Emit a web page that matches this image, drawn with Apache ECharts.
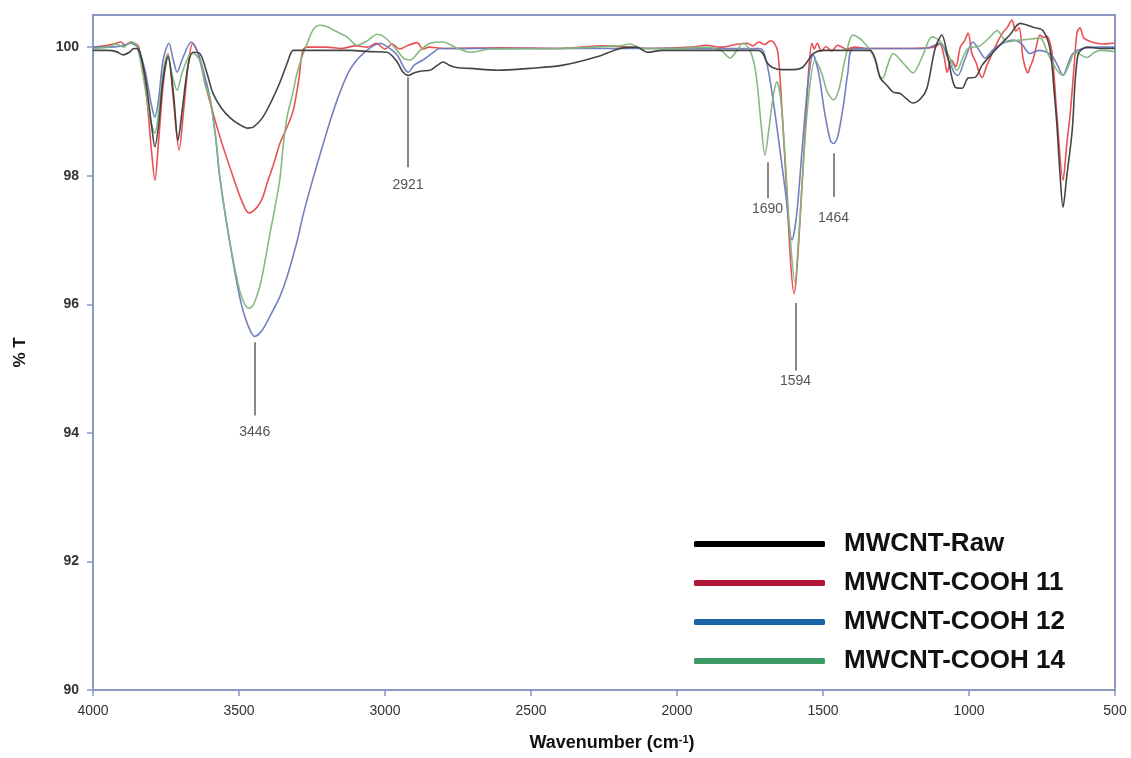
<!DOCTYPE html>
<html>
<head>
<meta charset="utf-8">
<title>FTIR spectra of MWCNT samples</title>
<script src="https://cdn.jsdelivr.net/npm/echarts@6/dist/echarts.min.js"></script>
<style>
  html, body { margin: 0; padding: 0; background: #ffffff; }
  #chart { width: 1131px; height: 758px; }
</style>
</head>
<body>
<div id="chart"></div>
<script>
// FTIR transmittance spectra, [wavenumber (cm-1), %T]
const seriesNames = ['MWCNT-Raw', 'MWCNT-COOH 11', 'MWCNT-COOH 12', 'MWCNT-COOH 14'];

const rawSpectrum = [
  [4000, 99.95], [3950, 99.95], [3920, 99.93], [3897, 99.88], [3875, 99.92], [3860, 99.98], [3845, 99.97],
  [3820, 99.5], [3800, 98.8], [3788, 98.45], [3775, 98.8], [3760, 99.5], [3743, 99.85], [3725, 99.3],
  [3709, 98.55], [3695, 99.0], [3675, 99.7], [3658, 99.92], [3634, 99.9], [3610, 99.6], [3589, 99.28],
  [3560, 99.05], [3530, 98.9], [3500, 98.8], [3470, 98.74], [3450, 98.76], [3420, 98.9], [3390, 99.15],
  [3360, 99.45], [3335, 99.75], [3315, 99.95], [3300, 99.95], [3200, 99.95], [3120, 99.95], [3050, 99.93],
  [2993, 99.92], [2960, 99.78], [2940, 99.62], [2921, 99.56], [2900, 99.6], [2875, 99.63], [2846, 99.64],
  [2820, 99.72], [2801, 99.77], [2780, 99.72], [2750, 99.68], [2709, 99.67], [2616, 99.64], [2503, 99.67],
  [2390, 99.72], [2274, 99.85], [2195, 99.98], [2137, 100.0], [2103, 99.92], [2050, 99.95], [1900, 99.95],
  [1800, 99.95], [1720, 99.95], [1706, 99.9], [1690, 99.75], [1671, 99.68], [1640, 99.65], [1600, 99.65],
  [1572, 99.68], [1550, 99.8], [1534, 99.9], [1500, 99.95], [1400, 99.95], [1339, 99.95], [1320, 99.8],
  [1305, 99.53], [1280, 99.4], [1260, 99.3], [1236, 99.28], [1215, 99.2], [1192, 99.13], [1165, 99.2],
  [1144, 99.36], [1116, 99.98], [1093, 100.19], [1072, 99.83], [1048, 99.38], [1024, 99.36], [1003, 99.52],
  [979, 99.53], [955, 99.72], [917, 99.92], [880, 100.1], [860, 100.19], [825, 100.37], [781, 100.31],
  [747, 100.26], [723, 99.98], [710, 99.4], [699, 98.79], [688, 98.0], [678, 97.51], [665, 98.0],
  [647, 98.68], [627, 99.88], [596, 100.0], [550, 99.98], [500, 99.98]
];

const cooh11Spectrum = [
  [4000, 100.0], [3960, 100.02], [3930, 100.05], [3904, 100.08], [3890, 100.03], [3870, 100.08], [3853, 100.05],
  [3843, 100.0], [3820, 99.4], [3800, 98.4], [3788, 97.93], [3776, 98.5], [3760, 99.4], [3743, 99.9],
  [3725, 99.2], [3705, 98.4], [3690, 99.0], [3672, 99.8], [3658, 100.06], [3640, 99.9], [3610, 99.33],
  [3565, 98.6], [3520, 97.98], [3490, 97.6], [3466, 97.42], [3440, 97.5], [3420, 97.65], [3404, 97.88],
  [3380, 98.2], [3360, 98.5], [3336, 98.75], [3315, 99.0], [3295, 99.5], [3284, 99.9], [3270, 100.0],
  [3200, 100.0], [3150, 99.98], [3100, 100.02], [3060, 100.0], [3030, 100.06], [3000, 99.97], [2975, 100.05],
  [2950, 99.97], [2920, 100.03], [2890, 100.07], [2870, 99.97], [2850, 100.0], [2800, 99.98], [2600, 99.99],
  [2400, 99.98], [2250, 100.02], [2100, 99.98], [1950, 100.0], [1900, 100.03], [1850, 100.0], [1800, 100.04],
  [1760, 100.06], [1740, 100.02], [1720, 100.08], [1700, 100.04], [1680, 100.1], [1665, 100.05], [1654, 99.9],
  [1640, 99.0], [1625, 97.8], [1610, 96.6], [1599, 96.17], [1590, 96.5], [1575, 97.6], [1560, 98.8],
  [1548, 99.7], [1538, 100.06], [1530, 99.97], [1520, 100.06], [1505, 99.94], [1490, 100.01], [1470, 99.94],
  [1450, 100.03], [1420, 99.97], [1390, 100.0], [1350, 99.98], [1300, 99.98], [1200, 99.98], [1120, 100.0],
  [1100, 100.05], [1085, 99.85], [1075, 99.61], [1060, 99.8], [1045, 99.7], [1030, 100.0], [1015, 100.1],
  [1003, 100.22], [990, 99.9], [975, 99.75], [965, 99.6], [955, 99.53], [940, 99.7], [921, 99.9],
  [900, 100.1], [884, 100.23], [870, 100.3], [853, 100.42], [840, 100.25], [828, 100.3], [815, 99.83],
  [798, 99.6], [790, 99.7], [781, 99.8], [770, 100.0], [757, 100.19], [745, 100.15], [733, 100.17],
  [716, 99.92], [699, 98.94], [678, 97.93], [665, 98.5], [654, 98.94], [640, 99.7], [630, 100.23],
  [620, 100.3], [608, 100.15], [596, 100.11], [580, 100.08], [562, 100.06], [540, 100.05], [507, 100.06],
  [500, 100.06]
];

const cooh12Spectrum = [
  [4000, 100.0], [3950, 100.0], [3900, 100.02], [3870, 100.06], [3845, 99.98], [3820, 99.6], [3800, 99.1],
  [3788, 98.91], [3775, 99.2], [3760, 99.8], [3740, 100.06], [3725, 99.8], [3712, 99.61], [3695, 99.8],
  [3664, 100.08], [3640, 99.9], [3620, 99.6], [3599, 99.2], [3580, 98.6], [3565, 97.95], [3531, 96.95],
  [3497, 96.1], [3470, 95.68], [3446, 95.5], [3420, 95.6], [3390, 95.85], [3360, 96.12], [3336, 96.42],
  [3300, 97.0], [3281, 97.38], [3250, 97.9], [3223, 98.32], [3188, 98.85], [3154, 99.3], [3120, 99.65],
  [3075, 99.9], [3017, 100.06], [2990, 100.0], [2959, 99.88], [2935, 99.68], [2921, 99.61], [2900, 99.72],
  [2870, 99.8], [2840, 99.9], [2812, 99.98], [2000, 99.98], [1720, 99.98], [1706, 99.95], [1690, 99.7],
  [1675, 99.3], [1658, 98.76], [1630, 97.8], [1606, 97.0], [1590, 97.4], [1570, 98.5], [1550, 99.5],
  [1534, 99.88], [1515, 99.6], [1495, 99.0], [1475, 98.55], [1464, 98.5], [1450, 98.6], [1430, 99.1],
  [1415, 99.6], [1397, 99.98], [1300, 99.98], [1150, 99.98], [1099, 100.06], [1070, 99.8], [1050, 99.6],
  [1038, 99.56], [1015, 99.8], [986, 100.08], [965, 99.95], [945, 99.83], [920, 99.95], [884, 100.06],
  [849, 100.11], [820, 100.05], [791, 99.9], [760, 99.95], [733, 99.92], [713, 99.85], [695, 99.7],
  [678, 99.56], [660, 99.75], [644, 99.9], [610, 99.98], [550, 100.0], [500, 100.0]
];

const cooh14Spectrum = [
  [4000, 99.98], [3950, 100.0], [3920, 100.05], [3895, 100.0], [3870, 100.08], [3850, 100.02], [3830, 99.6],
  [3805, 98.9], [3788, 98.66], [3775, 99.0], [3760, 99.6], [3745, 99.88], [3728, 99.55], [3712, 99.33],
  [3695, 99.6], [3670, 99.88], [3657, 99.9], [3635, 99.8], [3615, 99.4], [3599, 99.2], [3580, 98.6],
  [3565, 97.95], [3531, 96.95], [3497, 96.2], [3480, 96.0], [3466, 95.94], [3450, 96.0], [3425, 96.35],
  [3394, 97.1], [3377, 97.5], [3360, 97.95], [3349, 98.45], [3336, 98.9], [3315, 99.3], [3301, 99.6],
  [3280, 99.9], [3267, 100.05], [3245, 100.28], [3223, 100.34], [3200, 100.32], [3170, 100.25], [3130, 100.16],
  [3096, 100.03], [3060, 100.1], [3027, 100.2], [3000, 100.15], [2959, 99.95], [2935, 99.82], [2914, 99.8],
  [2880, 99.95], [2846, 100.06], [2801, 100.08], [2760, 100.0], [2709, 99.92], [2640, 99.97], [2400, 99.98],
  [2200, 100.02], [2161, 100.05], [2120, 99.98], [2000, 99.98], [1900, 100.0], [1850, 99.95], [1818, 99.83],
  [1795, 99.95], [1774, 100.06], [1750, 99.95], [1730, 99.6], [1712, 98.8], [1699, 98.32], [1686, 98.7],
  [1670, 99.25], [1658, 99.46], [1645, 99.2], [1630, 98.3], [1615, 97.2], [1596, 96.34], [1585, 96.9],
  [1570, 98.0], [1550, 99.2], [1527, 99.8], [1505, 99.6], [1485, 99.3], [1464, 99.18], [1445, 99.35],
  [1425, 99.8], [1397, 100.19], [1365, 100.1], [1329, 99.88], [1305, 99.55], [1295, 99.52], [1280, 99.7],
  [1260, 99.9], [1225, 99.75], [1192, 99.6], [1160, 99.85], [1127, 100.16], [1100, 100.1], [1075, 99.92],
  [1041, 99.64], [1020, 99.85], [1003, 99.98], [963, 100.02], [930, 100.15], [904, 100.26], [870, 100.08],
  [840, 100.1], [800, 100.12], [757, 100.14], [730, 99.9], [700, 99.65], [678, 99.56], [655, 99.75],
  [637, 99.92], [596, 99.84], [570, 99.92], [551, 99.95], [500, 99.93]
];

// Peak annotations: wavenumber, leader line top / bottom (%T), gap to text
const peakLabels = [3446, 2921, 1690, 1464, 1594];
const peakLineTop = [95.41, 99.53, 98.21, 98.35, 96.02];
const peakLineBottom = [94.27, 98.13, 97.65, 97.67, 94.97];
const peakTextGap = [10, 11, 4, 14, 4];

// Axis ticks
const yTicks = [90, 92, 94, 96, 98, 100];

const lineColors = ['#3b3b3b', '#e8474a', '#6b79bf', '#7fb67c'];
const legendColors = ['#000000', '#b0183a', '#1a66a8', '#3d9a63'];
const spectra = [rawSpectrum, cooh11Spectrum, cooh12Spectrum, cooh14Spectrum];

const frameColor = '#8b97c3';
const chart = echarts.init(document.getElementById('chart'), null, { renderer: 'canvas' });

const peakMarkData = peakLabels.map((wn, i) => [
  {
    coord: [wn, peakLineTop[i]],
    name: String(wn),
    label: { distance: peakTextGap[i] }
  },
  { coord: [wn, peakLineBottom[i]] }
]);

const series = spectra.map((data, i) => ({
  name: seriesNames[i],
  type: 'line',
  data: data,
  showSymbol: false,
  smooth: 0.3,
  z: i === 0 ? 5 : 3 + i * 0.1,
  lineStyle: { color: lineColors[i], width: 1.6, opacity: 0.95 },
  itemStyle: { color: lineColors[i] },
  emphasis: { disabled: true }
}));

// leader lines with peak positions
series[2].markLine = {
  silent: true,
  symbol: 'none',
  animation: false,
  lineStyle: { color: '#6a6a6a', width: 1.6, type: 'solid' },
  label: {
    show: true,
    position: 'end',
    formatter: '{b}',
    color: '#555555',
    fontFamily: 'Liberation Sans, Arial, sans-serif',
    fontSize: 14
  },
  data: peakMarkData
};

chart.setOption({
  animation: false,
  backgroundColor: '#ffffff',
  grid: {
    left: 93, right: 16, top: 15, bottom: 68,
    show: true,
    borderColor: frameColor,
    borderWidth: 2,
    backgroundColor: 'transparent'
  },
  legend: {
    orient: 'vertical',
    left: 689,
    top: 524,
    itemWidth: 131,
    itemHeight: 6,
    itemGap: 9,
    icon: 'roundRect',
    selectedMode: false,
    textStyle: {
      fontFamily: 'Liberation Sans, Arial, sans-serif',
      fontWeight: 'bold',
      fontSize: 26,
      lineHeight: 30,
      color: '#111111',
      padding: [0, 0, 0, 14]
    },
    data: seriesNames.map((n, i) => ({ name: n, itemStyle: { color: legendColors[i] } }))
  },
  xAxis: {
    type: 'value',
    inverse: true,
    min: 500,
    max: 4000,
    interval: 500,
    name: 'Wavenumber (cm{sup|-1})',
    nameLocation: 'middle',
    nameGap: 44,
    nameTextStyle: {
      fontFamily: 'Liberation Sans, Arial, sans-serif',
      fontWeight: 'bold',
      fontSize: 18,
      color: '#111111',
      padding: [0, 0, 0, 16],
      rich: {
        sup: {
          fontFamily: 'Liberation Sans, Arial, sans-serif',
          fontWeight: 'bold',
          fontSize: 11,
          verticalAlign: 'top',
          padding: [0, 0, 8, 0],
          color: '#111111'
        }
      }
    },
    axisLine: { show: true, onZero: false, lineStyle: { color: frameColor, width: 2 } },
    axisTick: { show: true, inside: false, length: 6, lineStyle: { color: frameColor, width: 1.5 } },
    axisLabel: {
      margin: 14,
      formatter: (v) => String(v),
      fontFamily: 'Liberation Sans Narrow, Liberation Sans, Arial, sans-serif',
      fontSize: 14,
      color: '#333333'
    },
    splitLine: { show: false }
  },
  yAxis: {
    type: 'value',
    min: 90,
    max: 100.5,
    interval: 2,
    name: '% T',
    nameLocation: 'middle',
    nameRotate: 90,
    nameGap: 64,
    nameTextStyle: {
      fontFamily: 'Liberation Sans, Arial, sans-serif',
      fontWeight: 'bold',
      fontSize: 17,
      color: '#111111'
    },
    axisLine: { show: true, onZero: false, lineStyle: { color: frameColor, width: 2 } },
    axisTick: { show: true, length: 6, customValues: yTicks, lineStyle: { color: frameColor, width: 1.5 } },
    axisLabel: {
      customValues: yTicks,
      margin: 14,
      fontFamily: 'Liberation Sans, Arial, sans-serif',
      fontWeight: 'bold',
      fontSize: 14,
      color: '#333333'
    },
    splitLine: { show: false }
  },
  series: series
});
</script>
</body>
</html>
